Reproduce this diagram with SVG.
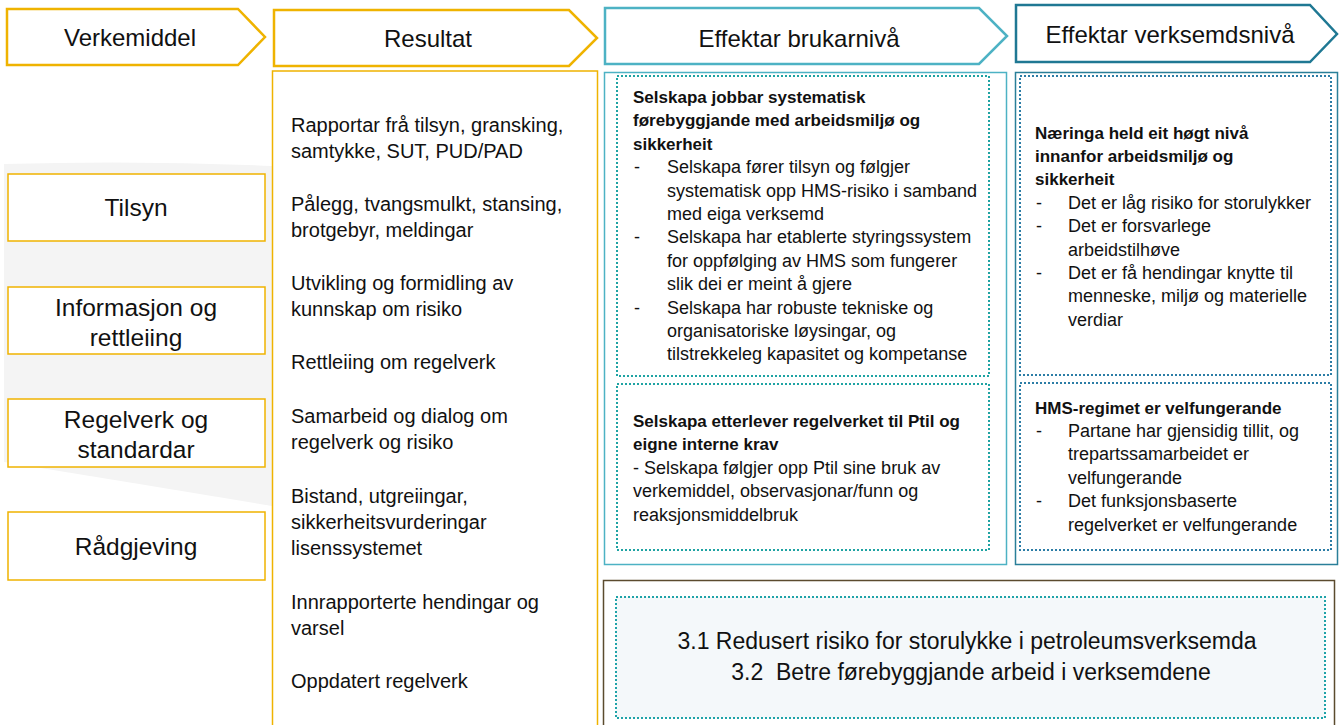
<svg xmlns="http://www.w3.org/2000/svg" width="1340" height="725" viewBox="0 0 1340 725">
<style>
text { font-family: "Liberation Sans", Arial, sans-serif; fill: #111; }
.hdr { font-size: 24px; text-anchor: middle; }
.lft { font-size: 24.5px; text-anchor: middle; }
.res { font-size: 20px; }
.body { font-size: 18px; }
.bold { font-size: 17px; font-weight: bold; }
.big { font-size: 23px; text-anchor: middle; }
.gold { fill: #fff; stroke: #EFB300; stroke-width: 2.5; }
.goldbox { fill: #fff; stroke: #EFB300; stroke-width: 1.5; }
.dotA { fill: #fff; stroke: #1FA3A3; stroke-width: 2; stroke-dasharray: 2 2; }
.dotB { fill: #fff; stroke: #2C7DA6; stroke-width: 2; stroke-dasharray: 2 2; }
</style>

<rect width="1340" height="725" fill="#fff"/>
<!-- faint background swoosh -->
<path d="M4,164 Q140,160 272,166 L272,506 Q140,484 4,462 Z" fill="#f4f4f4"/>

<!-- headers -->
<g id="hdr-verkemiddel">
  <polygon class="gold" points="7,9 238,9 265,37 238,65 7,65"/>
  <text class="hdr" x="130" y="46">Verkemiddel</text>
</g>
<g id="hdr-resultat">
  <polygon class="gold" points="274,10 569,10 597,38 569,66 274,66"/>
  <text class="hdr" x="428" y="47">Resultat</text>
</g>
<g id="hdr-brukar">
  <polygon points="605,8 979,8 1007,36 979,64 605,64" fill="#fff" stroke="#4DB2C4" stroke-width="2.5"/>
  <text class="hdr" x="799" y="47">Effektar brukarnivå</text>
</g>
<g id="hdr-verksemd">
  <polygon points="1016,5 1310,5 1337,34 1310,62 1016,62" fill="#fff" stroke="#1F7893" stroke-width="2.5"/>
  <text class="hdr" x="1170" y="43">Effektar verksemdsnivå</text>
</g>

<!-- left column -->
<g id="tilsyn">
  <rect class="goldbox" x="8" y="174" width="257" height="67"/>
  <text class="lft" x="136" y="216">Tilsyn</text>
</g>
<g id="informasjon">
  <rect class="goldbox" x="8" y="287" width="257" height="67"/>
  <text class="lft" x="136" y="316">Informasjon og</text>
  <text class="lft" x="136" y="346">rettleiing</text>
</g>
<g id="regelverk">
  <rect class="goldbox" x="8" y="399" width="257" height="68"/>
  <text class="lft" x="136" y="428">Regelverk og</text>
  <text class="lft" x="136" y="458">standardar</text>
</g>
<g id="raadgjeving">
  <rect class="goldbox" x="8" y="512" width="257" height="68"/>
  <text class="lft" x="136" y="555">Rådgjeving</text>
</g>

<!-- Resultat column -->
<g id="resultat">
  <rect class="goldbox" x="272.5" y="71" width="325" height="660"/>
  <text class="res" x="291" y="132">Rapportar frå tilsyn, gransking,</text>
  <text class="res" x="291" y="158">samtykke, SUT, PUD/PAD</text>
  <text class="res" x="291" y="211">Pålegg, tvangsmulkt, stansing,</text>
  <text class="res" x="291" y="237">brotgebyr, meldingar</text>
  <text class="res" x="291" y="290">Utvikling og formidling av</text>
  <text class="res" x="291" y="316">kunnskap om risiko</text>
  <text class="res" x="291" y="369">Rettleiing om regelverk</text>
  <text class="res" x="291" y="423">Samarbeid og dialog om</text>
  <text class="res" x="291" y="449">regelverk og risiko</text>
  <text class="res" x="291" y="503">Bistand, utgreiingar,</text>
  <text class="res" x="291" y="529">sikkerheitsvurderingar</text>
  <text class="res" x="291" y="555">lisenssystemet</text>
  <text class="res" x="291" y="609">Innrapporterte hendingar og</text>
  <text class="res" x="291" y="635">varsel</text>
  <text class="res" x="291" y="688">Oppdatert regelverk</text>
</g>

<!-- Effektar brukarnivå column -->
<g id="brukar">
  <rect x="604.5" y="72.5" width="402" height="492" fill="#fff" stroke="#4DB2C4" stroke-width="1.5"/>
  <rect class="dotA" x="617" y="76" width="372" height="300"/>
  <rect class="dotA" x="617" y="384" width="372" height="166"/>
  <text class="bold" x="633" y="103">Selskapa jobbar systematisk</text>
  <text class="bold" x="633" y="126.4">førebyggjande med arbeidsmiljø og</text>
  <text class="bold" x="633" y="149.8">sikkerheit</text>
  <text class="body" x="634" y="173.2">-</text>
  <text class="body" x="667" y="173.2">Selskapa fører tilsyn og følgjer</text>
  <text class="body" x="667" y="196.6">systematisk opp HMS-risiko i samband</text>
  <text class="body" x="667" y="220">med eiga verksemd</text>
  <text class="body" x="634" y="243.4">-</text>
  <text class="body" x="667" y="243.4">Selskapa har etablerte styringssystem</text>
  <text class="body" x="667" y="266.8">for oppfølging av HMS som fungerer</text>
  <text class="body" x="667" y="290.2">slik dei er meint å gjere</text>
  <text class="body" x="634" y="313.6">-</text>
  <text class="body" x="667" y="313.6">Selskapa har robuste tekniske og</text>
  <text class="body" x="667" y="337">organisatoriske løysingar, og</text>
  <text class="body" x="667" y="360.4">tilstrekkeleg kapasitet og kompetanse</text>
  <text class="bold" x="633" y="427">Selskapa etterlever regelverket til Ptil og</text>
  <text class="bold" x="633" y="450.4">eigne interne krav</text>
  <text class="body" x="633" y="473.8">- Selskapa følgjer opp Ptil sine bruk av</text>
  <text class="body" x="633" y="497.2">verkemiddel, observasjonar/funn og</text>
  <text class="body" x="633" y="520.6">reaksjonsmiddelbruk</text>
</g>

<!-- Effektar verksemdsnivå column -->
<g id="verksemd">
  <rect x="1015.5" y="72.5" width="322" height="492" fill="#fff" stroke="#2A7F99" stroke-width="1.5"/>
  <rect class="dotB" x="1020" y="76" width="311" height="299"/>
  <rect class="dotB" x="1020" y="383" width="311" height="167"/>
  <text class="bold" x="1035" y="138.5">Næringa held eit høgt nivå</text>
  <text class="bold" x="1035" y="161.9">innanfor arbeidsmiljø og</text>
  <text class="bold" x="1035" y="185.3">sikkerheit</text>
  <text class="body" x="1036" y="208.7">-</text>
  <text class="body" x="1068" y="208.7">Det er låg risiko for storulykker</text>
  <text class="body" x="1036" y="232.1">-</text>
  <text class="body" x="1068" y="232.1">Det er forsvarlege</text>
  <text class="body" x="1068" y="255.5">arbeidstilhøve</text>
  <text class="body" x="1036" y="278.9">-</text>
  <text class="body" x="1068" y="278.9">Det er få hendingar knytte til</text>
  <text class="body" x="1068" y="302.3">menneske, miljø og materielle</text>
  <text class="body" x="1068" y="325.7">verdiar</text>
  <text class="bold" x="1035" y="413.5">HMS-regimet er velfungerande</text>
  <text class="body" x="1036" y="436.9">-</text>
  <text class="body" x="1068" y="436.9">Partane har gjensidig tillit, og</text>
  <text class="body" x="1068" y="460.3">trepartssamarbeidet er</text>
  <text class="body" x="1068" y="483.7">velfungerande</text>
  <text class="body" x="1036" y="507.1">-</text>
  <text class="body" x="1068" y="507.1">Det funksjonsbaserte</text>
  <text class="body" x="1068" y="530.5">regelverket er velfungerande</text>
</g>

<!-- Bottom goal box -->
<g id="maal">
  <rect x="603.5" y="580.5" width="731" height="150" fill="#fff" stroke="#5B4B2E" stroke-width="1.5"/>
  <rect x="616" y="597" width="709" height="121" fill="#F4F8FA" stroke="#1FA3A8" stroke-width="2" stroke-dasharray="2 2"/>
  <text class="big" x="967" y="649">3.1 Redusert risiko for storulykke i petroleumsverksemda</text>
  <text class="big" x="971" y="680" xml:space="preserve">3.2  Betre førebyggjande arbeid i verksemdene</text>
</g>
</svg>
